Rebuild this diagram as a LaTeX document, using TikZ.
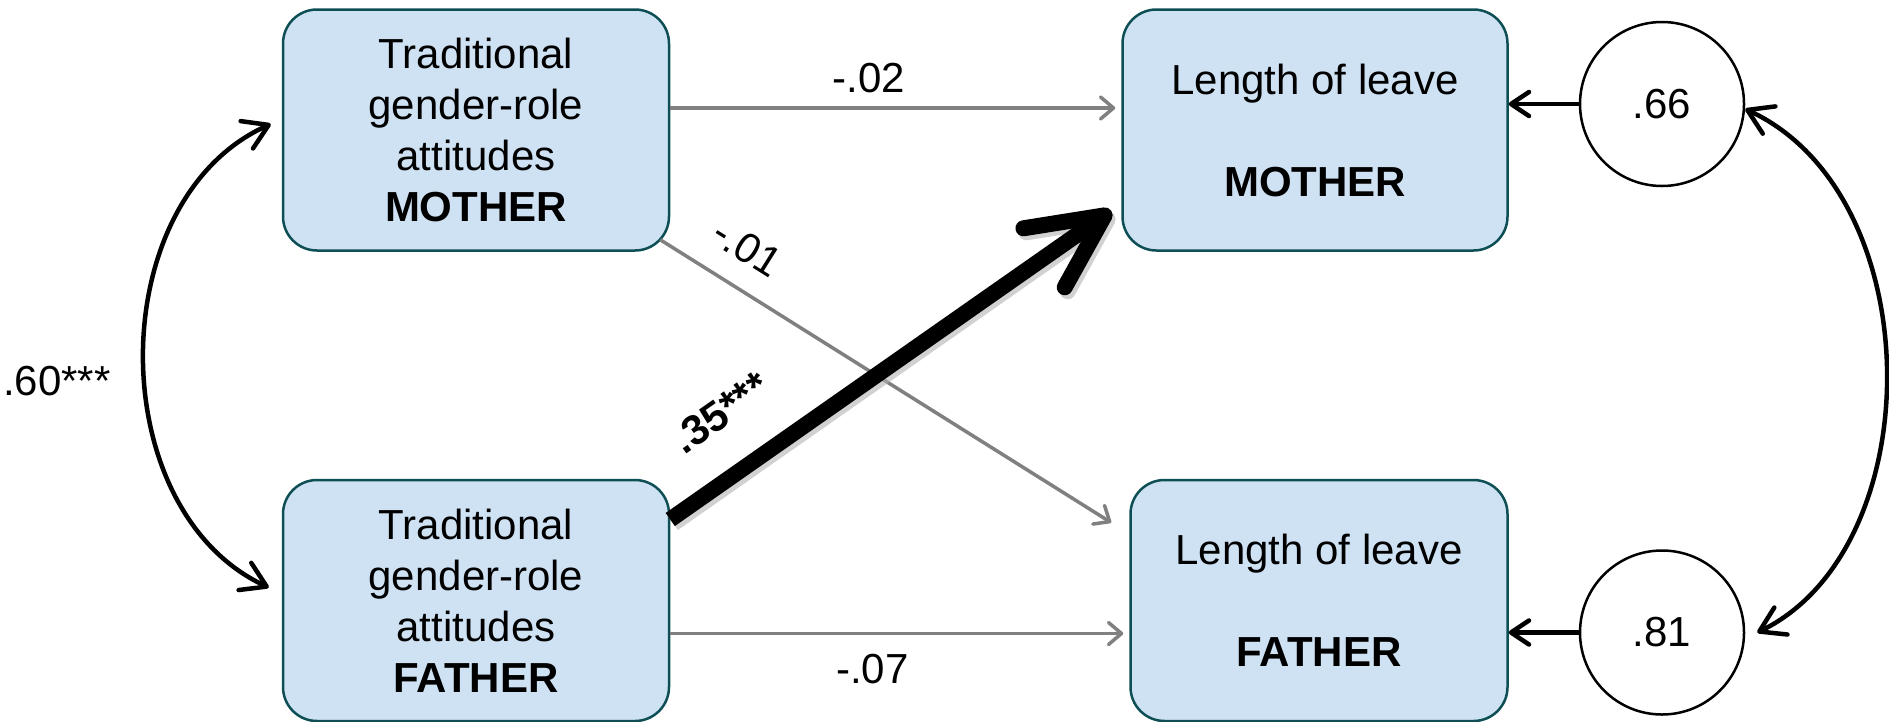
\documentclass[tikz,border=0pt]{standalone}
\usepackage{fontspec}
\setmainfont{Liberation Sans}
\usetikzlibrary{arrows.meta, positioning}
\definecolor{boxfill}{HTML}{CFE2F3}
\definecolor{boxline}{HTML}{0E4F55}
\definecolor{pathgray}{HTML}{808080}

\begin{document}
\begin{tikzpicture}[x=1pt, y=-1pt,
    font=\fontsize{42}{51}\selectfont,
    var/.style={draw=boxline, fill=boxfill, rounded corners=34pt,
                line width=2.5pt, minimum height=241pt, align=center,
                inner sep=0pt},
    resid/.style={draw, circle, minimum size=164pt, line width=2.5pt,
                  inner sep=0pt},
    weak/.style={draw=pathgray, line width=3.5pt, shorten >=6pt,
                 -{Straight Barb[round, length=13pt, width=22pt]}},
    strong/.style={line width=16pt,
                   -{Straight Barb[round, length=74pt, width=72pt]}},
    err/.style={line width=4.5pt,
                -{Straight Barb[round, length=18pt, width=24pt]}},
    cov/.style={line width=4.5pt,
                {Straight Barb[round, length=24pt, width=30pt]}-{Straight Barb[round, length=24pt, width=30pt]}},
    coef/.style={inner sep=2pt}
  ]
  \useasboundingbox (0,0) rectangle (1889,721);

  % attitudes
  \node[var, minimum width=386pt] (attM) at (476,130)
    {Traditional\\gender-role\\attitudes\\\textbf{MOTHER}};
  \node[var, minimum width=386pt, below=227pt of attM] (attF)
    {Traditional\\gender-role\\attitudes\\\textbf{FATHER}};

  % outcomes
  \node[var, minimum width=385pt, right=451pt of attM] (leaveM)
    {Length of leave\\[51pt]\textbf{MOTHER}};
  \node[var, minimum width=377pt, right=459pt of attF] (leaveF)
    {Length of leave\\[51pt]\textbf{FATHER}};

  % residuals
  \node[resid, right=70pt of leaveM, yshift=26pt] (c66) {.66};
  \node[resid, right=70pt of leaveF, yshift=-32pt] (c81) {.81};

  % paths
  \draw[weak] ([yshift=22pt]attM.east)
    -- node[coef, pos=0.44, above=11pt] {-.02}
    ([yshift=22pt]attM.east -| leaveM.west);
  \draw[weak] ([yshift=-33pt]attF.east)
    -- node[coef, pos=0.44, below=17pt] {-.07}
    ([yshift=-33pt]attF.east -| leaveF.west);
  \draw[weak] ([xshift=-10pt, yshift=12pt]attM.south east)
    -- node[coef, pos=0.145, sloped, above=21pt] {-.01}
    ([xshift=-13pt, yshift=-47pt]leaveF.north west);

  \draw[strong, draw=black!30, opacity=0.6, transform canvas={shift={(3pt,-4pt)}}]
    ([yshift=81pt]attF.east) -- ([xshift=-10pt, yshift=41pt]leaveM.south west);
  \draw[strong] ([yshift=81pt]attF.east)
    -- node[coef, pos=0.19, sloped, above=34pt] {\textbf{.35***}}
    ([xshift=-10pt, yshift=41pt]leaveM.south west);

  \draw[err] (c66.west) -- (c66.west -| leaveM.east);
  \draw[err] (c81.west) -- (c81.west -| leaveF.east);

  % covariances
  \draw[cov] ([xshift=-11pt, yshift=6pt]attM.west)
    .. controls (102,200) and (102,510) ..
    ([xshift=-13pt, yshift=13pt]attF.west)
    node[coef, pos=0.545, left=30pt] {.60***};
  \draw[cov] ([yshift=-5pt]c66.east)
    .. controls (1931,195) and (1931,548) ..
    ([xshift=12pt]c81.east);
\end{tikzpicture}
\end{document}
